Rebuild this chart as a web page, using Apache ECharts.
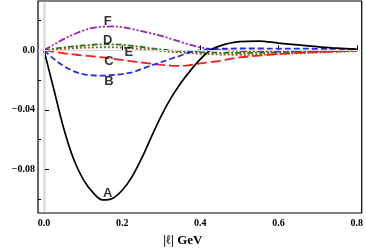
<!DOCTYPE html>
<html><head><meta charset="utf-8">
<script src="https://cdn.jsdelivr.net/npm/echarts@6/dist/echarts.min.js"></script>
<style>html,body{margin:0;padding:0;background:#fff}#c{width:366px;height:252px}</style>
</head><body><div id="c"></div>
<script>
const xs = [0,0.025,0.05,0.075,0.1,0.125,0.15,0.175,0.2,0.225,0.25,0.275,0.3,0.325,0.35,0.375,0.4,0.425,0.45,0.5,0.55,0.6,0.65,0.7,0.75,0.8];
const curveA = [0,-0.026,-0.052,-0.0725,-0.0865,-0.0955,-0.1005,-0.0995,-0.094,-0.085,-0.0725,-0.058,-0.044,-0.032,-0.022,-0.0135,-0.006,0,0.003,0.0058,0.0062,0.0048,0.0036,0.0024,0.0014,0.0008];
const curveB = [0,-0.0058,-0.0105,-0.014,-0.016,-0.0168,-0.017,-0.0166,-0.016,-0.0148,-0.0125,-0.0102,-0.008,-0.0057,-0.0035,-0.0012,0,0.0007,0.001,0.0012,0.0012,0.0011,0.0011,0.001,0.0009,0.0007];
const curveC = [0,-0.001,-0.002,-0.0028,-0.0035,-0.0041,-0.0048,-0.0057,-0.0065,-0.0074,-0.0082,-0.009,-0.0098,-0.0103,-0.0105,-0.0099,-0.0088,-0.008,-0.0071,-0.0048,-0.0036,-0.0025,-0.0018,-0.0012,-0.0008,-0.0003];
const curveD = [0,0.001,0.0019,0.0026,0.0032,0.0037,0.004,0.004,0.0037,0.003,0.0022,0.0013,0.0005,-0.0001,-0.0006,-0.001,-0.0013,-0.0015,-0.0017,-0.0018,-0.0017,-0.0014,-0.0011,-0.0008,-0.0005,-0.0003];
const curveE = [0,0.0005,0.001,0.0014,0.0017,0.0019,0.002,0.002,0.0018,0.0014,0.0008,0.0002,-0.0004,-0.001,-0.0015,-0.002,-0.0023,-0.0026,-0.0028,-0.003,-0.0029,-0.0025,-0.002,-0.0015,-0.001,-0.0006];
const curveF = [0,0.0038,0.0075,0.0106,0.0132,0.015,0.0158,0.016,0.0155,0.0143,0.0128,0.0113,0.0096,0.0077,0.0056,0.0036,0.002,0.0009,0.0002,-0.0005,-0.0008,-0.0009,-0.0008,-0.0007,-0.0005,-0.0003];
const labelNames = ['A','B','C','D','E','F'];
const labelX = [0.163,0.166,0.166,0.163,0.217,0.163];
const labelY = [-0.096,-0.0212,-0.0073,0.0066,-0.0013,0.0192];
const xTicks = [0,0.2,0.4,0.6,0.8];
const yTicks = [-0.08,-0.04,0];
const yMinorTicks = [-0.1,-0.06,-0.02,0.02];
const xMin = -0.0153, xMax = 0.8127, yMin = -0.1093, yMax = 0.0331;

const pts = arr => xs.map((x,i)=>[x,arr[i]]);
const serif = 'Liberation Serif';
const tickFont = {fontFamily:serif,fontWeight:'bold',fontSize:10,color:'#000'};
function line(name,data,color,type,width,z){
  return {name,type:'line',data:pts(data),smooth:0.35,symbol:'none',z:z,
    lineStyle:{color,width,type,cap:'butt'}};
}
const chart = echarts.init(document.getElementById('c'),null,{renderer:'canvas'});
chart.setOption({
  animation:false,
  grid:{left:38,right:3,top:1,bottom:36,show:true,borderColor:'#000',borderWidth:1.2},
  xAxis:[{type:'value',min:xMin,max:xMax,
    axisLine:{show:true,lineStyle:{color:'#000',width:1.2}},
    axisTick:{inside:true,length:5,customValues:xTicks,lineStyle:{color:'#000'}},
    axisLabel:{...tickFont,margin:5,customValues:xTicks,formatter:v=>v.toFixed(1)},
    splitLine:{show:false},
    name:'|ℓ| GeV',nameLocation:'middle',nameGap:21,
    nameTextStyle:{fontFamily:serif,fontWeight:'bold',fontSize:13,color:'#000',padding:[0,34,0,0]}}],
  yAxis:[{type:'value',min:yMin,max:yMax,
    axisLine:{show:true,lineStyle:{color:'#000',width:1.2}},
    axisTick:{inside:true,length:5,customValues:yTicks,lineStyle:{color:'#000'}},
    axisLabel:{...tickFont,margin:3,customValues:yTicks,
      formatter:v=>{if(Math.abs(v)<1e-9)return '0.0';return (v<0?'\u2212':'')+Math.abs(v).toFixed(2);}},
    splitLine:{show:false}},
   {type:'value',min:yMin,max:yMax,position:'left',
    axisLine:{show:false},axisTick:{inside:true,length:3,customValues:yMinorTicks,lineStyle:{color:'#000'}},
    axisLabel:{show:false},splitLine:{show:false}}],
  series:[
    {type:'line',data:[],silent:true,markLine:{silent:true,symbol:'none',label:{show:false},
      lineStyle:{color:'#d8d8d8',width:1,type:'solid'},data:[{xAxis:0},{yAxis:0}]}},
    line('F',curveF,'#9a1ec8',[7,2,2,2,2,2],1.8,3),
    line('D',curveD,'#1f7a12',[6,2,2,2],1.8,3),
    line('E',curveE,'#9a5a2a',[2,2],1.9,3),
    line('C',curveC,'#ff1a1a',[10,4],1.8,3),
    line('B',curveB,'#1a2cff',[6,3],1.8,3),
    line('A',curveA,'#000000','solid',1.7,4),
    {type:'scatter',z:6,symbolSize:0,silent:true,
      data:labelNames.map((n,i)=>({value:[labelX[i],labelY[i]],name:n})),
      label:{show:true,position:'inside',formatter:p=>p.name,
        fontFamily:'Liberation Sans',fontWeight:'bold',fontSize:13,color:'#000'}}
  ]
});
</script></body></html>
